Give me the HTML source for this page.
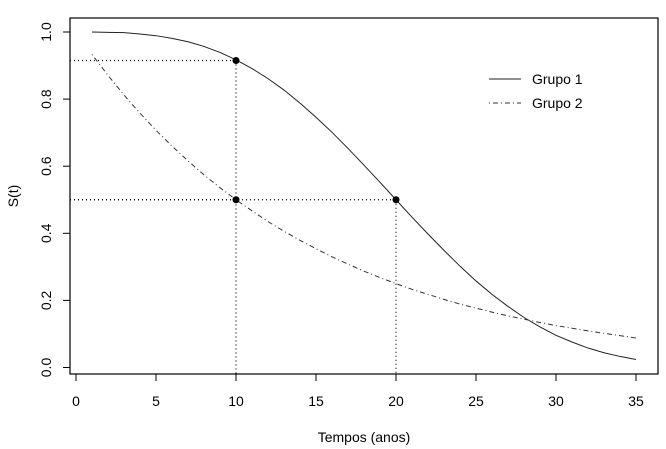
<!DOCTYPE html>
<html><head><meta charset="utf-8"><style>
body{margin:0;background:#fff}
svg{display:block;font-family:"Liberation Sans",Arial,sans-serif}
</style></head><body>
<svg id="chart" width="666" height="449"></svg>
<script>
const times=[1,2,3,4,5,6,7,8,9,10,11,12,13,14,15,16,17,18,19,20,21,22,23,24,25,26,27,28,29,30,31,32,33,34,35];
const grupo1=[1.000,.999,.998,.994,.989,.981,.971,.957,.939,.917,.891,.861,.827,.788,.746,.701,.653,.603,.552,.500,.448,.398,.349,.302,.258,.218,.182,.149,.121,.096,.076,.058,.044,.033,.024];
const grupo2=[.933,.871,.812,.758,.707,.660,.616,.574,.536,.5,.467,.435,.406,.379,.354,.330,.308,.287,.268,.25,.233,.218,.203,.189,.177,.165,.154,.144,.134,.125,.117,.109,.102,.095,.088];
const xTicks=[0,5,10,15,20,25,30,35];
const yTicks=[0,0.2,0.4,0.6,0.8,1.0];
const yTickLabels=["0.0","0.2","0.4","0.6","0.8","1.0"];
const refPoints=[[10,0.915],[10,0.5],[20,0.5]];

const NS="http://www.w3.org/2000/svg";
const svg=document.getElementById('chart');
const L=70,R=658,T=18,B=374;
const xs=t=>76+t*16;
const ys=v=>367.5-v*335.5;
function mk(tag,attrs,parent){const e=document.createElementNS(NS,tag);for(const k in attrs)e.setAttribute(k,attrs[k]);(parent||svg).appendChild(e);return e;}

const drawnV={};
refPoints.forEach(p=>{
  const h=mk('line',{x1:L,x2:xs(p[0]),y1:ys(p[1]),y2:ys(p[1]),stroke:'#000','stroke-dasharray':'1 3','stroke-width':1.2});
  
  
  if(!drawnV[p[0]]){
    drawnV[p[0]]=1;
    const top=Math.max(...refPoints.filter(q=>q[0]===p[0]).map(q=>q[1]));
    const v=mk('line',{x1:xs(p[0]),x2:xs(p[0]),y1:ys(top),y2:B,stroke:'#000','stroke-dasharray':'1 3','stroke-width':1.2});
    
    
  }
});

const p1=mk('path',{d:times.map((t,i)=>(i?'L':'M')+xs(t)+' '+ys(grupo1[i])).join(' '),fill:'none',stroke:'#222','stroke-width':1});


const p2=mk('path',{d:times.map((t,i)=>(i?'L':'M')+xs(t)+' '+ys(grupo2[i])).join(' '),fill:'none',stroke:'#333','stroke-width':1,'stroke-dasharray':'1 3 5 3'});



refPoints.forEach(p=>{
  const c=mk('circle',{cx:xs(p[0]),cy:ys(p[1]),r:3.5,fill:'#000'});
  
  
});

const box=mk('rect',{x:L,y:T,width:R-L,height:B-T,fill:'none',stroke:'#000','stroke-width':1.2});



xTicks.forEach(t=>{
  const l=mk('line',{x1:xs(t),x2:xs(t),y1:B,y2:B+7,stroke:'#000'});
  
  
  const tx=mk('text',{x:xs(t),y:B+32,'text-anchor':'middle','font-size':14});
  tx.textContent=t;
  
  
});
yTicks.forEach((v,i)=>{
  const l=mk('line',{x1:L-7,x2:L,y1:ys(v),y2:ys(v),stroke:'#000'});
  
  
  const tx=mk('text',{x:0,y:0,'text-anchor':'middle','font-size':14,transform:`translate(51,${ys(v)}) rotate(-90)`});
  tx.textContent=yTickLabels[i];
  
  
});
</script>
<div style="position:absolute;left:0;top:0;width:666px;height:449px;pointer-events:none">
<svg width="666" height="449" style="font-family:'Liberation Sans',Arial,sans-serif">
<text x="364" y="442" text-anchor="middle" font-size="14">Tempos (anos)</text>
<text transform="translate(18,196) rotate(-90)" text-anchor="middle" font-size="14">S(t)</text>
<g>
<line x1="489" x2="521" y1="79" y2="79" stroke="#222"/>
<text x="532" y="84" font-size="14">Grupo 1</text>
<line x1="489" x2="521" y1="103" y2="103" stroke="#333" stroke-dasharray="1 3 5 3"/>
<text x="532" y="108" font-size="14">Grupo 2</text>
</g>
</svg></div>
</body></html>
